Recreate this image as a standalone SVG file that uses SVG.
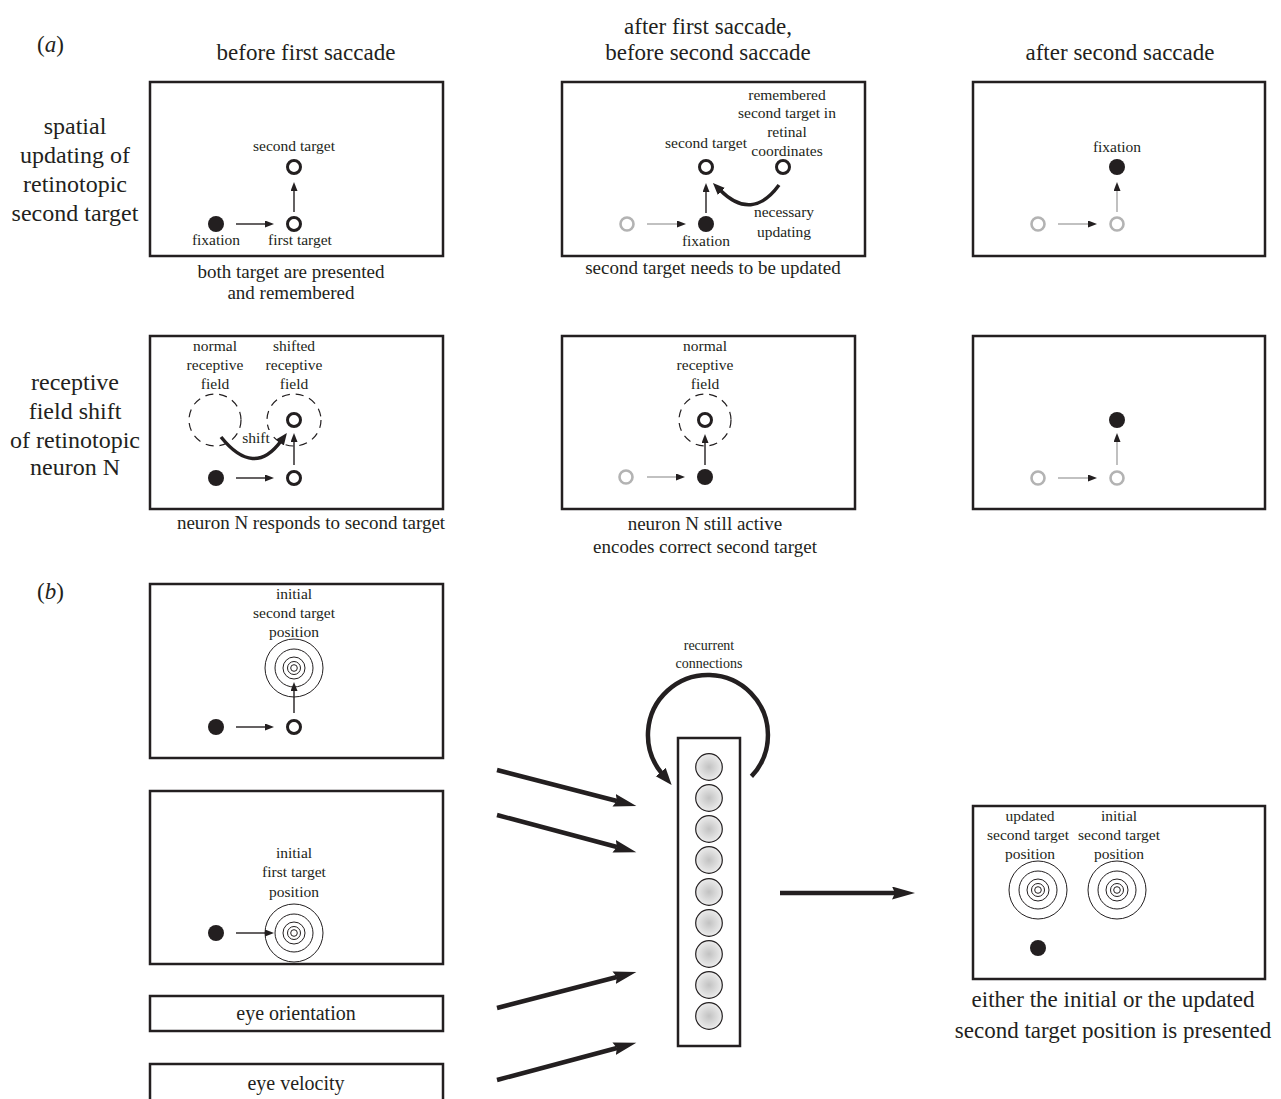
<svg xmlns="http://www.w3.org/2000/svg" width="1281" height="1099" viewBox="0 0 1281 1099">
<defs>
<style>
.t{font-family:"Liberation Serif","Times New Roman",serif;fill:#231f20;text-anchor:middle}
.h{font-size:23px}
.lab{font-size:24px}
.c{font-size:19px}
.s{font-size:15.5px}
.r{font-size:14px}
.box{fill:#fff;stroke:#231f20;stroke-width:2.5}
.dot{fill:#231f20}
.tg{fill:none;stroke:#231f20;stroke-width:3}
.gc{fill:none;stroke:#b3b3b3;stroke-width:2.6}
.ar{fill:none;stroke:#231f20;stroke-width:1.4}
.ga{fill:none;stroke:#a6a6a6;stroke-width:1.4}
.curve{fill:none;stroke:#231f20;stroke-width:3.5}
.rf{fill:none;stroke:#231f20;stroke-width:1.2;stroke-dasharray:8 6}
.cc{fill:none;stroke:#231f20;stroke-width:1}
.big{fill:none;stroke:#231f20;stroke-width:4.5}
.nc{fill:url(#ng);stroke:#231f20;stroke-width:1.2}
</style>
<radialGradient id="ng" cx="0.5" cy="0.5" r="0.5">
<stop offset="0" stop-color="#c2c2c2"/>
<stop offset="1" stop-color="#ececec"/>
</radialGradient>
<marker id="ah" markerUnits="userSpaceOnUse" markerWidth="10" markerHeight="8" refX="1" refY="3.5" orient="auto"><path d="M0,0 L9,3.5 L0,7 z" fill="#231f20"/></marker>
<marker id="ahc" markerUnits="userSpaceOnUse" markerWidth="13" markerHeight="11" refX="2" refY="5" orient="auto"><path d="M0,0 L12,5 L0,10 z" fill="#231f20"/></marker>
<marker id="ahr" markerUnits="userSpaceOnUse" markerWidth="18" markerHeight="14" refX="2" refY="6.5" orient="auto"><path d="M0,0 L17,6.5 L0,13 z" fill="#231f20"/></marker>
<marker id="ahb" markerUnits="userSpaceOnUse" markerWidth="24" markerHeight="14" refX="3" refY="6.5" orient="auto"><path d="M0,0 L23,6.5 L0,13 L3,6.5 z" fill="#231f20"/></marker>
</defs>
<rect width="1281" height="1099" fill="#fff"/>

<g id="headings">
<text class="t h" x="37" y="52" style="text-anchor:start">(<tspan font-style="italic">a</tspan>)</text>
<text class="t h" x="306" y="60">before first saccade</text>
<text class="t h" x="708" y="34">after first saccade,</text>
<text class="t h" x="708" y="60">before second saccade</text>
<text class="t h" x="1120" y="60">after second saccade</text>
<text class="t lab" x="75" y="134">spatial</text>
<text class="t lab" x="75" y="163">updating of</text>
<text class="t lab" x="75" y="192">retinotopic</text>
<text class="t lab" x="75" y="221">second target</text>
<text class="t lab" x="75" y="390">receptive</text>
<text class="t lab" x="75" y="419">field shift</text>
<text class="t lab" x="75" y="448">of retinotopic</text>
<text class="t lab" x="75" y="475">neuron N</text>
<text class="t h" x="37" y="599" style="text-anchor:start">(<tspan font-style="italic">b</tspan>)</text>
</g>

<g id="panel-a1">
<rect class="box" x="150" y="82" width="293" height="174"/>
<text class="t s" x="294" y="151">second target</text>
<circle class="tg" cx="294" cy="167" r="6.5"/>
<path class="ar" d="M294,212 V190" marker-end="url(#ah)"/>
<circle class="dot" cx="216" cy="224" r="8"/>
<path class="ar" d="M236,224 H266" marker-end="url(#ah)"/>
<circle class="tg" cx="294" cy="224" r="6.5"/>
<text class="t s" x="216" y="245">fixation</text>
<text class="t s" x="300" y="245">first target</text>
<text class="t c" x="291" y="278">both target are presented</text>
<text class="t c" x="291" y="299">and remembered</text>
</g>

<g id="panel-a2">
<rect class="box" x="562" y="82" width="303" height="174"/>
<text class="t s" x="787" y="100">remembered</text>
<text class="t s" x="787" y="118">second target in</text>
<text class="t s" x="787" y="137">retinal</text>
<text class="t s" x="787" y="156">coordinates</text>
<text class="t s" x="706" y="148">second target</text>
<circle class="tg" cx="706" cy="167" r="6.5"/>
<circle class="tg" cx="783" cy="167" r="6.5"/>
<path class="curve" d="M779,185 Q752,222 720,190" marker-end="url(#ahc)"/>
<text class="t s" x="784" y="217">necessary</text>
<text class="t s" x="784" y="237">updating</text>
<circle class="gc" cx="627" cy="224" r="6.5"/>
<path class="ga" d="M647,224 H678" marker-end="url(#ah)"/>
<circle class="dot" cx="706" cy="224" r="8"/>
<path class="ar" d="M706,213 V191" marker-end="url(#ah)"/>
<text class="t s" x="706" y="246">fixation</text>
<text class="t c" x="713" y="274">second target needs to be updated</text>
</g>

<g id="panel-a3">
<rect class="box" x="973" y="82" width="292" height="174"/>
<text class="t s" x="1117" y="152">fixation</text>
<circle class="dot" cx="1117" cy="167" r="8"/>
<circle class="gc" cx="1038" cy="224" r="6.5"/>
<path class="ga" d="M1058,224 H1089" marker-end="url(#ah)"/>
<circle class="gc" cx="1117" cy="224" r="6.5"/>
<path class="ga" d="M1117,212 V190" marker-end="url(#ah)"/>
</g>

<g id="panel-a4">
<rect class="box" x="150" y="336" width="293" height="173"/>
<text class="t s" x="215" y="351">normal</text>
<text class="t s" x="215" y="370">receptive</text>
<text class="t s" x="215" y="389">field</text>
<text class="t s" x="294" y="351">shifted</text>
<text class="t s" x="294" y="370">receptive</text>
<text class="t s" x="294" y="389">field</text>
<ellipse class="rf" cx="215" cy="420" rx="26" ry="26"/>
<ellipse class="rf" cx="294" cy="420" rx="27" ry="26"/>
<circle class="tg" cx="294" cy="420" r="6.5"/>
<rect x="241" y="430" width="30" height="15" fill="#fff"/>
<path class="curve" d="M221,437 Q254,478 281,441" marker-end="url(#ahc)"/>
<text class="t s" x="256" y="443">shift</text>
<path class="ar" d="M294,465 V441" marker-end="url(#ah)"/>
<circle class="dot" cx="216" cy="478" r="8"/>
<path class="ar" d="M236,478 H266" marker-end="url(#ah)"/>
<circle class="tg" cx="294" cy="478" r="6.5"/>
<text class="t c" x="311" y="529">neuron N responds to second target</text>
</g>

<g id="panel-a5">
<rect class="box" x="562" y="336" width="293" height="173"/>
<text class="t s" x="705" y="351">normal</text>
<text class="t s" x="705" y="370">receptive</text>
<text class="t s" x="705" y="389">field</text>
<ellipse class="rf" cx="705" cy="420" rx="26" ry="26"/>
<circle class="tg" cx="705" cy="420" r="6.5"/>
<path class="ar" d="M705,465 V442" marker-end="url(#ah)"/>
<circle class="gc" cx="626" cy="477" r="6.5"/>
<path class="ga" d="M647,477 H677" marker-end="url(#ah)"/>
<circle class="dot" cx="705" cy="477" r="8"/>
<text class="t c" x="705" y="530">neuron N still active</text>
<text class="t c" x="705" y="553">encodes correct second target</text>
</g>

<g id="panel-a6">
<rect class="box" x="973" y="336" width="292" height="173"/>
<circle class="dot" cx="1117" cy="420" r="8"/>
<path class="ga" d="M1117,465 V441" marker-end="url(#ah)"/>
<circle class="gc" cx="1038" cy="478" r="6.5"/>
<path class="ga" d="M1058,478 H1089" marker-end="url(#ah)"/>
<circle class="gc" cx="1117" cy="478" r="6.5"/>
</g>

<g id="input-second-target">
<rect class="box" x="150" y="584" width="293" height="174"/>
<text class="t s" x="294" y="599">initial</text>
<text class="t s" x="294" y="618">second target</text>
<text class="t s" x="294" y="637">position</text>
<circle class="cc" cx="294" cy="668" r="29"/>
<circle class="cc" cx="294" cy="668" r="19"/>
<circle class="cc" cx="294" cy="668" r="11"/>
<circle class="cc" cx="294" cy="668" r="6.5"/>
<circle class="cc" cx="294" cy="668" r="3.3"/>
<path class="ar" d="M294,713 V690" marker-end="url(#ah)"/>
<circle class="dot" cx="216" cy="727" r="8"/>
<path class="ar" d="M236,727 H266" marker-end="url(#ah)"/>
<circle class="tg" cx="294" cy="727" r="6.5"/>
</g>

<g id="input-first-target">
<rect class="box" x="150" y="791" width="293" height="173"/>
<text class="t s" x="294" y="858">initial</text>
<text class="t s" x="294" y="877">first target</text>
<text class="t s" x="294" y="897">position</text>
<circle class="cc" cx="294" cy="933" r="29"/>
<circle class="cc" cx="294" cy="933" r="19"/>
<circle class="cc" cx="294" cy="933" r="11"/>
<circle class="cc" cx="294" cy="933" r="6.5"/>
<circle class="cc" cx="294" cy="933" r="3.3"/>
<circle class="dot" cx="216" cy="933" r="8"/>
<path class="ar" d="M236,933 H266" marker-end="url(#ah)"/>
</g>

<g id="input-eye-orientation">
<rect class="box" x="150" y="996" width="293" height="35"/>
<text class="t" x="296" y="1020" font-size="20">eye orientation</text>
</g>

<g id="input-eye-velocity">
<rect class="box" x="150" y="1064" width="293" height="40"/>
<text class="t" x="296" y="1090" font-size="20">eye velocity</text>
</g>

<g id="network">
<text class="t r" x="709" y="650">recurrent</text>
<text class="t r" x="709" y="668">connections</text>
<rect class="box" x="678" y="738" width="62" height="308"/>
<circle class="nc" cx="709" cy="767" r="13.3"/>
<circle class="nc" cx="709" cy="798" r="13.3"/>
<circle class="nc" cx="709" cy="829" r="13.3"/>
<circle class="nc" cx="709" cy="860" r="13.3"/>
<circle class="nc" cx="709" cy="892" r="13.3"/>
<circle class="nc" cx="709" cy="923" r="13.3"/>
<circle class="nc" cx="709" cy="954" r="13.3"/>
<circle class="nc" cx="709" cy="985" r="13.3"/>
<circle class="nc" cx="709" cy="1016" r="13.3"/>
</g>

<g id="output">
<rect class="box" x="973" y="806" width="292" height="173"/>
<text class="t s" x="1030" y="821">updated</text>
<text class="t s" x="1028" y="840">second target</text>
<text class="t s" x="1030" y="859">position</text>
<text class="t s" x="1119" y="821">initial</text>
<text class="t s" x="1119" y="840">second target</text>
<text class="t s" x="1119" y="859">position</text>
<circle class="cc" cx="1038" cy="890" r="29"/>
<circle class="cc" cx="1038" cy="890" r="19"/>
<circle class="cc" cx="1038" cy="890" r="11"/>
<circle class="cc" cx="1038" cy="890" r="6.5"/>
<circle class="cc" cx="1038" cy="890" r="3.3"/>
<circle class="cc" cx="1117" cy="890" r="29"/>
<circle class="cc" cx="1117" cy="890" r="19"/>
<circle class="cc" cx="1117" cy="890" r="11"/>
<circle class="cc" cx="1117" cy="890" r="6.5"/>
<circle class="cc" cx="1117" cy="890" r="3.3"/>
<circle class="dot" cx="1038" cy="948" r="8"/>
<text class="t" x="1113" y="1007" font-size="23">either the initial or the updated</text>
<text class="t" x="1113" y="1038" font-size="23">second target position is presented</text>
</g>

<g id="connectors">
<path class="big" d="M497,770 L617,801" marker-end="url(#ahb)"/>
<path class="big" d="M497,815 L617,847" marker-end="url(#ahb)"/>
<path class="big" d="M497,1008 L617,977" marker-end="url(#ahb)"/>
<path class="big" d="M497,1080 L617,1048" marker-end="url(#ahb)"/>
<path class="big" d="M780,893 H895" marker-end="url(#ahb)"/>
<path class="big" d="M751.4,776.4 A60,60 0 1 0 662,773.6" marker-end="url(#ahr)"/>
</g>
</svg>
